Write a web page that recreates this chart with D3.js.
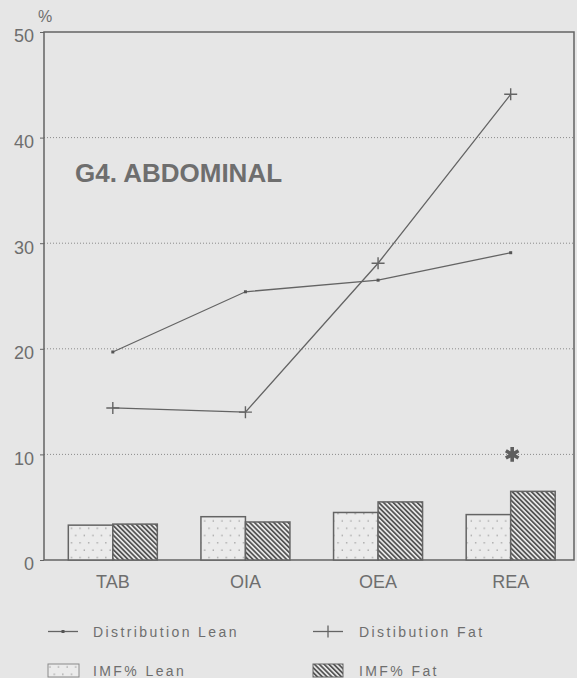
<!DOCTYPE html>
<html>
<head>
<meta charset="utf-8">
<script src="https://cdn.jsdelivr.net/npm/d3@7"></script>
<style>
  body { margin: 0; background: #e6e6e6; }
  svg { display: block; }
  text { font-family: "Liberation Sans", Arial, sans-serif; fill: #6e6e6e; }
</style>
</head>
<body>
<svg id="chart" width="577" height="678"></svg>
<script>
// values
var categories = ['TAB', 'OIA', 'OEA', 'REA'];
var distLean = [19.7, 25.4, 26.5, 29.1];
var distFat = [14.4, 14.0, 28.1, 44.1];
var imfLean = [3.3, 4.1, 4.5, 4.3];
var imfFat = [3.4, 3.6, 5.5, 6.5];
var yTicks = [0, 10, 20, 30, 40, 50];
var starMarks = [{ cat: 'REA', value: 10 }];
var legendNames = ['Distribution Lean', 'Distibution Fat', 'IMF% Lean', 'IMF% Fat'];

var ink = '#646464';
var svg = d3.select('#chart');

// plot box (note: "top" is a reserved window global, so prefixed names)
var plotLeft = 44, plotRight = 574, plotTop = 32, plotBottom = 560;

var x = d3.scaleBand().domain(categories).range([46.5, 577]).padding(0);
var x1 = d3.scaleBand().domain(['lean', 'fat']).range([-44.5, 44.5]);
var y = d3.scaleLinear().domain([0, 50]).range([plotBottom, plotTop]);
var cx = function(c) { return x(c) + x.bandwidth() / 2; };

// patterns
var defs = svg.append('defs');
var dots = defs.append('pattern')
	.attr('id', 'dots').attr('patternUnits', 'userSpaceOnUse')
	.attr('width', 8.6).attr('height', 14.6);
dots.append('rect').attr('width', 8.6).attr('height', 14.6).attr('fill', '#ebebeb');
dots.append('rect').attr('x', 2).attr('y', 2).attr('width', 1.3).attr('height', 1.3).attr('fill', '#9a9a9a');
dots.append('rect').attr('x', 6.3).attr('y', 9.3).attr('width', 1.3).attr('height', 1.3).attr('fill', '#9a9a9a');

var hatch = defs.append('pattern')
	.attr('id', 'hatch').attr('patternUnits', 'userSpaceOnUse')
	.attr('width', 3.4).attr('height', 10)
	.attr('patternTransform', 'rotate(-45)');
hatch.append('rect').attr('width', 3.4).attr('height', 10).attr('fill', '#ededed');
hatch.append('rect').attr('width', 1.8).attr('height', 10).attr('fill', '#555');

// dotted grid lines
svg.append('g').selectAll('line')
	.data(yTicks.filter(function(d) { return d > 0 && d < 50; }))
	.enter().append('line')
	.attr('x1', plotLeft).attr('x2', plotRight)
	.attr('y1', function(d) { return y(d); }).attr('y2', function(d) { return y(d); })
	.attr('stroke', '#8a8a8a').attr('stroke-width', 1)
	.attr('stroke-dasharray', '1,2');

// y axis
var yAxis = svg.append('g')
	.attr('transform', 'translate(' + plotLeft + ',0)')
	.call(d3.axisLeft(y).tickValues(yTicks).tickSize(4).tickPadding(6).tickFormat(d3.format('d')));
yAxis.select('.domain').remove();
yAxis.selectAll('line').attr('stroke', ink);
yAxis.selectAll('text')
	.style('font-size', '18px').style('font-family', '"Liberation Sans", Arial, sans-serif')
	.attr('fill', '#707070').attr('dy', '0.55em');

// frame
svg.append('path')
	.attr('d', 'M' + plotLeft + ',' + plotBottom + 'V' + plotTop + 'H' + plotRight + 'V' + plotBottom + 'Z')
	.attr('fill', 'none').attr('stroke', ink).attr('stroke-width', 1.5);

svg.append('text').attr('x', 45).attr('y', 22)
	.attr('text-anchor', 'middle').style('font-size', '16px').text('%');

// bars
var barData = [];
categories.forEach(function(c, i) {
	barData.push({ cat: c, key: 'lean', value: imfLean[i] });
	barData.push({ cat: c, key: 'fat', value: imfFat[i] });
});
svg.append('g').selectAll('rect')
	.data(barData)
	.enter().append('rect')
	.attr('x', function(d) { return cx(d.cat) + x1(d.key); })
	.attr('y', function(d) { return y(d.value); })
	.attr('width', x1.bandwidth())
	.attr('height', function(d) { return y(0) - y(d.value); })
	.attr('fill', function(d) { return d.key === 'lean' ? 'url(#dots)' : 'url(#hatch)'; })
	.attr('stroke', ink).attr('stroke-width', 1.5);

// x labels
svg.append('g').selectAll('text')
	.data(categories)
	.enter().append('text')
	.attr('x', function(d) { return cx(d); })
	.attr('y', 588)
	.attr('text-anchor', 'middle')
	.style('font-size', '18px')
	.text(function(d) { return d; });

// distribution lines
var line = d3.line()
	.x(function(d, i) { return cx(categories[i]); })
	.y(function(d) { return y(d); });

svg.append('path').datum(distLean)
	.attr('d', line).attr('fill', 'none')
	.attr('stroke', ink).attr('stroke-width', 1.3);
svg.append('path').datum(distFat)
	.attr('d', line).attr('fill', 'none')
	.attr('stroke', ink).attr('stroke-width', 1.3);

svg.append('g').selectAll('rect')
	.data(distLean)
	.enter().append('rect')
	.attr('x', function(d, i) { return cx(categories[i]) - 1.5; })
	.attr('y', function(d) { return y(d) - 1.5; })
	.attr('width', 3).attr('height', 3).attr('fill', '#555');

var crossPath = function(px, py) {
	return 'M' + (px - 6.5) + ',' + py + 'H' + (px + 6.5) + 'M' + px + ',' + (py - 6) + 'V' + (py + 6);
};
svg.append('g').selectAll('path')
	.data(distFat)
	.enter().append('path')
	.attr('d', function(d, i) { return crossPath(cx(categories[i]), y(d)); })
	.attr('stroke', ink).attr('stroke-width', 1.4);

// significance star
svg.append('g').selectAll('path')
	.data(starMarks)
	.enter().append('path')
	.attr('transform', function(d) { return 'translate(' + (cx(d.cat) + 1.5) + ',' + y(d.value) + ')'; })
	.attr('d', d3.symbol(d3.symbolAsterisk, 150))
	.attr('fill', 'none').attr('stroke', '#5e5e5e').attr('stroke-width', 3.6);

// title
svg.append('text').attr('x', 75).attr('y', 182)
	.style('font-size', '26px').style('font-weight', 'bold')
	.attr('fill', '#666').text('G4. ABDOMINAL');

// legend
var legend = svg.append('g');
var lx = [48, 313], ly = [631.5, 670.5];
// row 1: lines
legend.append('line').attr('x1', lx[0]).attr('x2', lx[0] + 30)
	.attr('y1', ly[0]).attr('y2', ly[0]).attr('stroke', ink).attr('stroke-width', 1.3);
legend.append('rect').attr('x', lx[0] + 13.5).attr('y', ly[0] - 1.5)
	.attr('width', 3).attr('height', 3).attr('fill', '#555');
legend.append('line').attr('x1', lx[1]).attr('x2', lx[1] + 30)
	.attr('y1', ly[0]).attr('y2', ly[0]).attr('stroke', ink).attr('stroke-width', 1.3);
legend.append('line').attr('x1', lx[1] + 15).attr('x2', lx[1] + 15)
	.attr('y1', ly[0] - 6).attr('y2', ly[0] + 6).attr('stroke', ink).attr('stroke-width', 1.3);
// row 2: fills
legend.append('rect').attr('x', lx[0]).attr('y', ly[1] - 6.5).attr('width', 31).attr('height', 13)
	.attr('fill', 'url(#dots)').attr('stroke', '#8a8a8a').attr('stroke-width', 1);
legend.append('rect').attr('x', lx[1]).attr('y', ly[1] - 6.5).attr('width', 30).attr('height', 13)
	.attr('fill', 'url(#hatch)').attr('stroke', ink).attr('stroke-width', 1);

legend.selectAll('text.leg')
	.data(legendNames)
	.enter().append('text')
	.attr('class', 'leg')
	.attr('x', function(d, i) { return i % 2 === 0 ? 93 : 359; })
	.attr('y', function(d, i) { return (i < 2 ? ly[0] : ly[1]) + 5; })
	.style('font-size', '14px')
	.style('letter-spacing', '2.4px')
	.attr('fill', '#6e6e6e')
	.text(function(d) { return d; });
</script>
</body>
</html>
